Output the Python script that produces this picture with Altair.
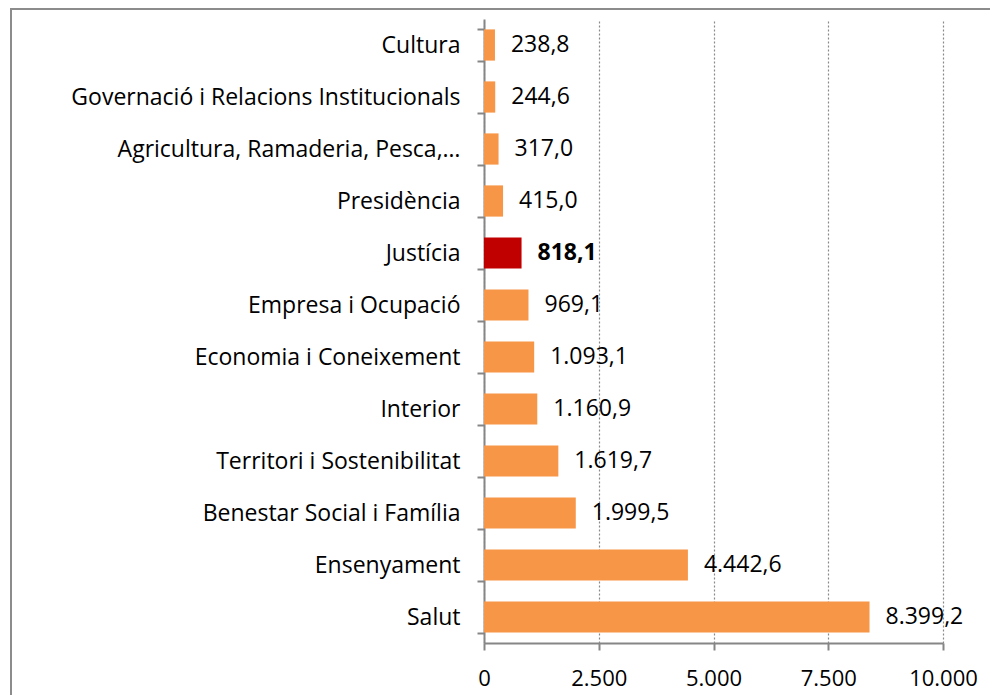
import altair as alt
import pandas as pd

categories = [
    "Cultura",
    "Governació i Relacions Institucionals",
    "Agricultura, Ramaderia, Pesca,…",
    "Presidència",
    "Justícia",
    "Empresa i Ocupació",
    "Economia i Coneixement",
    "Interior",
    "Territori i Sostenibilitat",
    "Benestar Social i Família",
    "Ensenyament",
    "Salut",
]
values = [238.8, 244.6, 317.0, 415.0, 818.1, 969.1, 1093.1, 1160.9, 1619.7, 1999.5, 4442.6, 8399.2]
highlight = [c == "Justícia" for c in categories]
x_ticks = [0, 2500, 5000, 7500, 10000]


def fmt(v):
    s = f"{v:,.1f}"
    return s.replace(",", "X").replace(".", ",").replace("X", ".")


df = pd.DataFrame({
    "cat": categories,
    "val": values,
    "hl": ["sí" if h else "no" for h in highlight],
    "lab": [fmt(v) for v in values],
})

FONT = "Open Sans"
FS = 23
GRAY = "#868686"

y_enc = alt.Y(
    "cat:N",
    sort=categories,
    title=None,
    scale=alt.Scale(paddingInner=0.4, paddingOuter=0.2),
    axis=alt.Axis(
        domainColor=GRAY, domainWidth=2,
        tickColor=GRAY, tickWidth=2, tickSize=7, tickBand="extent",
        labelFont=FONT, labelFontSize=FS, labelColor="#000000", labelPadding=17,
        labelLimit=0,
    ),
)
x_enc = alt.X(
    "val:Q",
    title=None,
    scale=alt.Scale(domain=[0, 10000], nice=False),
    axis=alt.Axis(
        values=x_ticks,
        domainColor=GRAY, domainWidth=2,
        tickColor=GRAY, tickWidth=2, tickSize=7,
        grid=True, gridColor="#8a8a8a", gridDash=[2, 2], gridWidth=1.2,
        labelFont=FONT, labelFontSize=22, labelColor="#000000", labelPadding=18,
        labelFlush=False, labelOverlap=False,
        labelExpr="replace(format(datum.value, ','), ',', '.')",
    ),
)

border = alt.Chart(pd.DataFrame({"a": [0]})).mark_rect(
    fill=None, stroke="#8c8c8c", strokeWidth=2
).encode(
    x=alt.value(-473), x2=alt.value(700), y=alt.value(-10), y2=alt.value(900)
)

base = alt.Chart(df)

bars = base.mark_bar().encode(
    y=y_enc,
    x=x_enc,
    color=alt.Color("hl:N", scale=alt.Scale(domain=["no", "sí"], range=["#F79646", "#C00000"]), legend=None),
)

text_norm = base.transform_filter(alt.datum.hl == "no").mark_text(
    align="left", baseline="middle", dx=16, font=FONT, fontSize=FS, color="#000000"
).encode(y=alt.Y("cat:N", sort=categories), x="val:Q", text="lab:N")

text_bold = base.transform_filter(alt.datum.hl == "sí").mark_text(
    align="left", baseline="middle", dx=16, font=FONT, fontSize=FS, fontWeight="bold", color="#000000"
).encode(y=alt.Y("cat:N", sort=categories), x="val:Q", text="lab:N")

chart = alt.layer(border, bars, text_norm, text_bold).properties(
    width=459,
    height=624,
    padding={"left": 476, "top": 11, "right": 47, "bottom": 52},
    autosize=alt.AutoSizeParams(type="none"),
).configure_view(stroke=None)

chart.save("out.html", embed_options={"renderer": "svg", "actions": False})
